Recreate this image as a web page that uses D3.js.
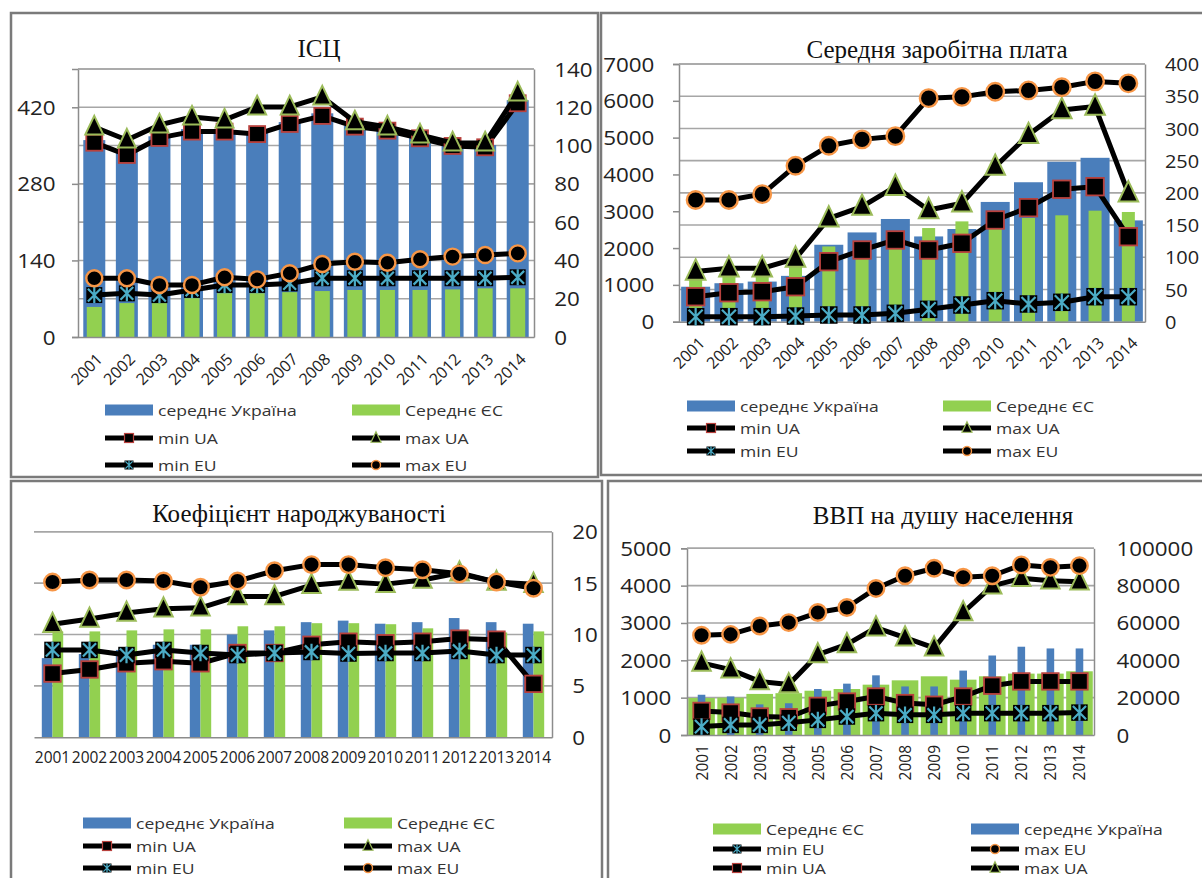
<!DOCTYPE html>
<html><head><meta charset="utf-8">
<script src="https://cdn.jsdelivr.net/npm/d3@7"></script>
<style>body{margin:0;background:#fff}</style>
</head><body>
<svg id="c" width="1202" height="878"></svg>
<script>
// ---------- DATA ----------
const years = ["2001","2002","2003","2004","2005","2006","2007","2008","2009","2010","2011","2012","2013","2014"];

// ІСЦ
const cpiUaMean = [360,338,367,380,378,375,393,409,386,380,367,353,351,433];
const cpiEuMean = [55,62,62,71,80,80,82,84,86,86,86,87,89,89];
const cpiMinUA  = [101.5,95.1,104,107.3,107.3,106,111.3,115.5,109.9,107.8,103.8,99.8,99.1,122.1];
const cpiMaxUA  = [109.7,102.9,110.8,114.9,113.4,120.2,120.2,125.4,112.4,109.7,105.5,101.4,101.4,127.5];
const cpiMinEU  = [21.9,22.8,21.9,24.6,27.2,27.2,28,30.7,30.7,30.7,30.7,30.7,30.7,31.2];
const cpiMaxEU  = [30.7,30.7,27.2,27.2,31.2,30.1,33.3,38.1,39.3,38.8,40.6,42,42.8,43.7];
const cpiLeftTicks  = [0,140,280,420];
const cpiRightTicks = [0,20,40,60,80,100,120,140];

// Середня заробітна плата
const wageUaMean = [950,1045,1090,1245,2090,2425,2790,2316,2518,3253,3788,4343,4452,2752];
const wageEuMean = [1200,1230,1230,1650,2044,1907,2000,2544,2725,2650,2817,2890,3016,2980];
const wageMinUA  = [38.8,45,46.6,54.3,93.2,111.3,126.9,111.3,121.7,157.9,177,205.6,209.6,132];
const wageMaxUA  = [78,83,83,98,160.5,178.6,209.6,173.4,183.8,240.7,290,328.7,334,199.4];
const wageMinEU  = [7.8,7.8,7.8,8.8,10.4,10.4,13,19.2,25.9,32.6,27.5,30.1,38.8,38.8];
const wageMaxEU  = [189,189,198,242,273,283,288,347,349,357,359,364,373,370];
const wageLeftTicks  = [0,1000,2000,3000,4000,5000,6000,7000];
const wageRightTicks = [0,50,100,150,200,250,300,350,400];

// Коефіцієнт народжуваності
const birthUaMean = [7.7,8.1,8.5,9.0,9.0,10.0,10.4,11.2,11.35,11.05,11.2,11.6,11.2,11.05];
const birthEuMean = [10.3,10.3,10.4,10.5,10.5,10.8,10.8,11.1,11.1,11.0,10.6,10.4,10.2,10.3];
const birthMinUA  = [6.2,6.6,7.2,7.4,7.2,8.2,8.2,9.0,9.3,9.15,9.3,9.6,9.5,5.2];
const birthMaxUA  = [11.0,11.5,12.1,12.5,12.6,13.7,13.7,14.8,15.1,14.9,15.3,16.0,15.1,14.9];
const birthMinEU  = [8.5,8.5,8.0,8.5,8.2,8.0,8.2,8.3,8.15,8.2,8.2,8.4,8.0,8.0];
const birthMaxEU  = [15.1,15.3,15.3,15.2,14.6,15.2,16.2,16.8,16.8,16.5,16.3,15.9,15.1,14.5];
const birthRightTicks = [0,5,10,15,20];

// ВВП на душу населення
const gdpEuMean = [990,1000,1100,1120,1186,1232,1348,1464,1572,1482,1572,1644,1644,1706];
const gdpUaMean = [1078,1033,820,850,1232,1375,1598,1300,1300,1725,2129,2364,2318,2318];
const gdpMinUA  = [12900,12000,9900,9500,15600,17900,20600,17100,16200,20600,26400,28700,28700,28700];
const gdpMaxUA  = [38600,35000,28700,27000,43100,48500,57500,52100,46700,65600,79900,83900,82600,82100];
const gdpMinEU  = [4500,5400,5400,6600,8100,9900,11700,10800,10800,11700,11700,11700,11700,12000];
const gdpMaxEU  = [53400,53900,58400,60200,65600,68300,78500,85300,89300,84500,85300,91100,89800,90700];
const gdpLeftTicks  = [0,1000,2000,3000,4000,5000];
const gdpRightTicks = [0,20000,40000,60000,80000,100000];

const labels = {
  uaMean: "середнє Україна", euMean: "Середнє ЄС",
  minUA: "min UA", maxUA: "max UA", minEU: "min EU", maxEU: "max EU"
};

// ---------- STYLE ----------
const svg = d3.select("#c");
const FONT = "'Open Sans', sans-serif";
const SERIF = "'Liberation Serif', 'Times New Roman', serif";
const BLUE = "#4a7ebb", GREEN = "#92d050";
const GRID = "#a6a6a6", AXIS = "#8c8c8c", TXT = "#222";

function txt(g, x, y, s, o = {}) {
  return g.append("text")
    .attr("transform", `translate(${x},${y})${o.rot ? ` rotate(${o.rot})` : ""} scale(${o.sx || 1},1)`)
    .attr("text-anchor", o.anchor || "start")
    .attr("dominant-baseline", "central")
    .attr("font-family", o.family || FONT)
    .attr("font-size", o.size || 14)
    .attr("fill", o.color || TXT)
    .text(s);
}

function marker(g, type, cx, cy, s) {
  const h = s / 2;
  if (type === "minUA") {
    g.append("rect").attr("x", cx - h).attr("y", cy - h).attr("width", s).attr("height", s)
      .attr("fill", "#000").attr("stroke", "#b8413d").attr("stroke-width", s > 10 ? 1.8 : 1.2);
  } else if (type === "maxUA") {
    const t = s * 1.12;
    g.append("path").attr("d", `M${cx},${cy - t * 0.62}L${cx + t / 2},${cy + t * 0.42}L${cx - t / 2},${cy + t * 0.42}Z`)
      .attr("fill", "#000").attr("stroke", "#9bbb59").attr("stroke-width", s > 10 ? 2 : 1.2);
  } else if (type === "minEU") {
    g.append("rect").attr("x", cx - h).attr("y", cy - h).attr("width", s).attr("height", s).attr("fill", "#000");
    const k = h * 0.8;
    const p = `M${cx - k},${cy - k}L${cx + k},${cy + k}M${cx + k},${cy - k}L${cx - k},${cy + k}M${cx},${cy - h}L${cx},${cy + h}`;
    g.append("path").attr("d", p).attr("stroke", "#4bacc6").attr("stroke-width", s > 10 ? 2.2 : 1.3).attr("fill", "none");
  } else if (type === "maxEU") {
    g.append("circle").attr("cx", cx).attr("cy", cy).attr("r", h)
      .attr("fill", "#000").attr("stroke", "#f79646").attr("stroke-width", s > 10 ? 2.4 : 1.4);
  }
}

function panel(cfg) {
  const g = svg.append("g");
  g.append("rect").attr("x", cfg.box[0]).attr("y", cfg.box[1]).attr("width", cfg.box[2] - cfg.box[0])
    .attr("height", cfg.box[3] - cfg.box[1]).attr("fill", "#fff").attr("stroke", "#7a7a7a").attr("stroke-width", 2.5);

  const x = d3.scaleBand().domain(years).range([cfg.x0, cfg.x1]);
  const yL = cfg.left ? d3.scaleLinear().domain(cfg.left.domain).range([cfg.y1, cfg.y0]) : null;
  const yR = d3.scaleLinear().domain(cfg.right.domain).range([cfg.y1, cfg.y0]);
  const yBar = cfg.barAxis === "right" ? yR : yL;
  const yGrid = cfg.gridAxis === "left" ? yL : yR;
  const gridTicks = cfg.gridAxis === "left" ? cfg.left.ticks : cfg.right.ticks;

  // gridlines
  g.append("g").selectAll("line").data(gridTicks.slice(1)).join("line")
    .attr("x1", cfg.x0).attr("x2", cfg.x1).attr("y1", d => yGrid(d)).attr("y2", d => yGrid(d))
    .attr("stroke", GRID).attr("stroke-width", 1.6);

  // bars
  const bars = g.append("g");
  cfg.bars.forEach(b => {
    bars.append("g").selectAll("rect").data(b.values).join("rect")
      .attr("x", (d, i) => x(years[i]) + x.bandwidth() / 2 + b.off)
      .attr("width", b.w)
      .attr("y", d => yBar(d))
      .attr("height", d => yBar(0) - yBar(d))
      .attr("fill", b.color);
  });

  // axes
  if (cfg.left) {
    const ax = g.append("g").attr("transform", `translate(${cfg.x0},0)`)
      .call(d3.axisLeft(yL).tickValues(cfg.left.ticks).tickSize(cfg.left.tick).tickPadding(cfg.left.pad).tickFormat(d3.format("d")));
    ax.selectAll("path,line").attr("stroke", AXIS).attr("stroke-width", 1.5);
    ax.selectAll("text").attr("font-family", FONT).attr("font-size", cfg.tickSize).attr("fill", TXT)
      .attr("dy", "0.35em").attr("transform", `scale(${cfg.left.sx || 1.12},1)`);
  }
  {
    const ax = g.append("g").attr("transform", `translate(${cfg.x1},0)`)
      .call(d3.axisRight(yR).tickValues(cfg.right.ticks).tickSize(cfg.right.tick).tickPadding(cfg.right.pad).tickFormat(d3.format("d")));
    ax.selectAll("path,line").attr("stroke", AXIS).attr("stroke-width", 1.5);
    ax.selectAll("text").attr("font-family", FONT).attr("font-size", cfg.right.size || cfg.tickSize).attr("fill", TXT)
      .attr("dy", "0.35em").attr("transform", `scale(${cfg.right.sx || 1.12},1)`);
  }
  // top border line (plot area)
  g.append("line").attr("x1", cfg.x0).attr("x2", cfg.x1).attr("y1", cfg.y0).attr("y2", cfg.y0)
    .attr("stroke", GRID).attr("stroke-width", 1.6);

  // category axis
  const bx = g.append("g").attr("transform", `translate(0,${cfg.y1})`)
    .call(d3.axisBottom(x).tickSize(0).tickPadding(0));
  bx.select("path").attr("stroke", AXIS).attr("stroke-width", 1.6);
  const bt = bx.selectAll("text").attr("font-family", FONT).attr("fill", TXT).attr("font-size", cfg.xlab.size)
    .attr("dy", null).attr("y", null);
  if (cfg.xlab.rot === -45) {
    bt.attr("text-anchor", "end").attr("dominant-baseline", "central")
      .attr("transform", `translate(${cfg.xlab.dx},${cfg.xlab.dy}) rotate(-45)`);
  } else if (cfg.xlab.rot === -90) {
    bt.attr("text-anchor", "end").attr("dominant-baseline", "central")
      .attr("transform", `translate(${cfg.xlab.dx},${cfg.xlab.dy}) rotate(-90)`);
  } else {
    bt.attr("text-anchor", "middle").attr("dominant-baseline", "central")
      .attr("transform", `translate(${cfg.xlab.dx},${cfg.xlab.dy})`);
  }

  // lines
  cfg.lines.forEach(l => {
    const lg = g.append("g");
    const line = d3.line().x((d, i) => x(years[i]) + x.bandwidth() / 2).y(d => yR(d));
    lg.append("path").attr("d", line(l.values)).attr("fill", "none").attr("stroke", "#000")
      .attr("stroke-width", 5).attr("stroke-linejoin", "round");
    l.values.forEach((v, i) => marker(lg, l.type, x(years[i]) + x.bandwidth() / 2, yR(v), cfg.ms));
  });

  // title
  txt(g, cfg.title.x, cfg.title.y, cfg.title.text, { anchor: "middle", family: SERIF, size: cfg.title.size, color: "#111", sx: cfg.title.sx || 1 });

  // legend
  cfg.legend.items.forEach((it, k) => {
    const col = k % 2, row = Math.floor(k / 2);
    const lx = cfg.legend.cols[col], ly = cfg.legend.rows[row];
    const sw = cfg.legend.sw;
    if (it.kind === "bar") {
      g.append("rect").attr("x", lx).attr("y", ly - 5.5).attr("width", sw).attr("height", 11).attr("fill", it.color);
    } else {
      g.append("line").attr("x1", lx).attr("x2", lx + sw).attr("y1", ly).attr("y2", ly).attr("stroke", "#000").attr("stroke-width", 5);
      marker(g, it.type, lx + sw / 2, ly, 9);
    }
    txt(g, lx + sw + 5, ly, it.label, { size: 15, color: "#333", sx: 1.17 });
  });
}

const stdLegend = [
  { kind: "bar", color: BLUE, label: labels.uaMean }, { kind: "bar", color: GREEN, label: labels.euMean },
  { kind: "line", type: "minUA", label: labels.minUA }, { kind: "line", type: "maxUA", label: labels.maxUA },
  { kind: "line", type: "minEU", label: labels.minEU }, { kind: "line", type: "maxEU", label: labels.maxEU }
];

// Panel 1
panel({
  box: [11, 13, 598, 477],
  x0: 78, x1: 534, y0: 69, y1: 337,
  left: { domain: [0, 490], ticks: cpiLeftTicks, tick: 6, pad: 14 },
  right: { domain: [0, 140], ticks: cpiRightTicks, tick: 0, pad: 18 },
  gridAxis: "right", barAxis: "left", tickSize: 20,
  bars: [{ values: cpiUaMean, color: BLUE, off: -11, w: 22 }, { values: cpiEuMean, color: GREEN, off: -7.5, w: 15 }],
  lines: [{ type: "minUA", values: cpiMinUA }, { type: "maxUA", values: cpiMaxUA }, { type: "minEU", values: cpiMinEU }, { type: "maxEU", values: cpiMaxEU }],
  ms: 16,
  xlab: { rot: -45, size: 16, dx: 5, dy: 19 },
  title: { text: "ІСЦ", x: 319, y: 48, size: 25 },
  legend: { items: stdLegend, cols: [105, 352], rows: [410, 438, 465], sw: 48 }
});

// Panel 2
panel({
  box: [601, 13, 1212, 475],
  x0: 679, x1: 1145, y0: 64, y1: 321.7,
  left: { domain: [0, 7000], ticks: wageLeftTicks, tick: 6, pad: 16 },
  right: { domain: [0, 400], ticks: wageRightTicks, tick: 0, pad: 19, size: 19, sx: 1.05 },
  gridAxis: "right", barAxis: "left", tickSize: 20,
  bars: [{ values: wageUaMean, color: BLUE, off: -14.5, w: 29 }, { values: wageEuMean, color: GREEN, off: -6.5, w: 13 }],
  lines: [{ type: "minUA", values: wageMinUA }, { type: "maxUA", values: wageMaxUA }, { type: "minEU", values: wageMinEU }, { type: "maxEU", values: wageMaxEU }],
  ms: 17.5,
  xlab: { rot: -45, size: 16, dx: 6, dy: 18 },
  title: { text: "Середня заробітна плата", x: 937, y: 49, size: 25 },
  legend: { items: stdLegend, cols: [687, 943], rows: [406, 428, 451], sw: 48 }
});

// Panel 3
panel({
  box: [11, 481, 602, 900],
  x0: 34, x1: 552, y0: 531.7, y1: 737.3,
  left: null,
  right: { domain: [0, 20], ticks: birthRightTicks, tick: 0, pad: 18 },
  gridAxis: "right", barAxis: "right", tickSize: 20,
  bars: [{ values: birthUaMean, color: BLUE, off: -10.7, w: 10.7 }, { values: birthEuMean, color: GREEN, off: 0, w: 10.7 }],
  lines: [{ type: "minUA", values: birthMinUA }, { type: "maxUA", values: birthMaxUA }, { type: "minEU", values: birthMinEU }, { type: "maxEU", values: birthMaxEU }],
  ms: 16.5,
  xlab: { rot: 0, size: 15.5, dx: 0, dy: 20 },
  title: { text: "Коефіцієнт народжуваності", x: 299, y: 513, size: 25 },
  legend: { items: stdLegend, cols: [83, 344], rows: [823, 846, 868], sw: 48 }
});

// Panel 4
panel({
  box: [608, 481, 1212, 900],
  x0: 687, x1: 1094, y0: 548.3, y1: 735,
  left: { domain: [0, 5000], ticks: gdpLeftTicks, tick: 6, pad: 8 },
  right: { domain: [0, 100000], ticks: gdpRightTicks, tick: 0, pad: 20 },
  gridAxis: "left", barAxis: "left", tickSize: 20,
  bars: [{ values: gdpEuMean, color: GREEN, off: -13.3, w: 26.6 }, { values: gdpUaMean, color: BLUE, off: -3.8, w: 7.6 }],
  lines: [{ type: "minUA", values: gdpMinUA }, { type: "maxUA", values: gdpMaxUA }, { type: "minEU", values: gdpMinEU }, { type: "maxEU", values: gdpMaxEU }],
  ms: 16.5,
  xlab: { rot: -90, size: 15.5, dx: 0, dy: 10 },
  title: { text: "ВВП на душу населення", x: 943, y: 515, size: 25 },
  legend: {
    items: [
      { kind: "bar", color: GREEN, label: labels.euMean }, { kind: "bar", color: BLUE, label: labels.uaMean },
      { kind: "line", type: "minEU", label: labels.minEU }, { kind: "line", type: "maxEU", label: labels.maxEU },
      { kind: "line", type: "minUA", label: labels.minUA }, { kind: "line", type: "maxUA", label: labels.maxUA }
    ], cols: [713, 971], rows: [829, 849, 868], sw: 48
  }
});
</script>
</body></html>
